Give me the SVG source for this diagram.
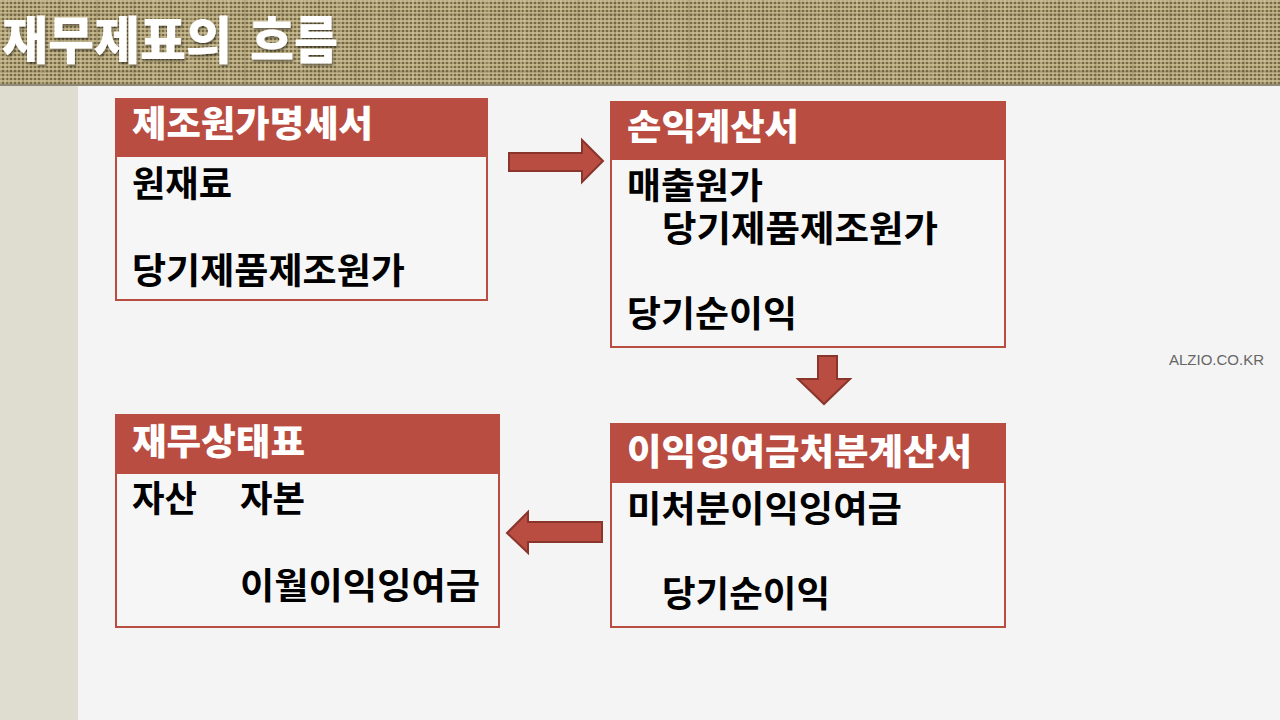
<svg xmlns="http://www.w3.org/2000/svg" width="1280" height="720" viewBox="0 0 1280 720">
<style>
.box{fill:#f6f6f6;stroke:#b94d42;stroke-width:2}
.hdr{fill:#b94d42}
.ht{font-family:"Noto Sans CJK KR","Noto Sans",sans-serif;font-weight:900;font-size:36px;fill:#ffffff}
.bt{font-family:"Noto Sans CJK KR","Noto Sans",sans-serif;font-weight:700;font-size:36px;fill:#000000}
.title{font-family:"Noto Sans CJK KR","Noto Sans",sans-serif;font-weight:900;font-size:51px;fill:#ffffff}
.arrow{fill:#b94d42;stroke:#8a352c;stroke-width:2;stroke-linejoin:miter}
.wm{font-family:"Liberation Sans",Arial,sans-serif;font-size:15px;fill:#666666}
</style>
<defs>
<pattern id="burlap" width="4" height="4" patternUnits="userSpaceOnUse">
<rect width="4" height="4" fill="#766b45"/>
<rect x="0" y="0" width="4" height="2" fill="#b9ab82"/>
<rect x="0" y="0" width="2" height="4" fill="#ae9f77"/>
<rect x="0" y="0" width="2" height="2" fill="#c6b990"/>
</pattern>
<pattern id="streak" width="37" height="29" patternUnits="userSpaceOnUse">
<rect x="5" y="0" width="2" height="29" fill="#d8cba0" opacity="0.25"/>
<rect x="0" y="13" width="37" height="2" fill="#5e5535" opacity="0.18"/>
<rect x="22" y="0" width="2" height="29" fill="#5e5535" opacity="0.15"/>
</pattern>
<filter id="sh" x="-5%" y="-20%" width="110%" height="140%">
<feDropShadow dx="1" dy="2" stdDeviation="1.2" flood-color="#000" flood-opacity="0.45"/>
</filter>
</defs>
<rect width="1280" height="720" fill="#f4f4f4"/>
<rect x="0" y="86" width="78" height="634" fill="#dfddcf"/>
<rect x="0" y="0" width="1280" height="86" fill="url(#burlap)"/>
<rect x="0" y="0" width="1280" height="86" fill="url(#streak)"/>
<rect x="0" y="84" width="1280" height="2" fill="#8f8a78"/>
<text class="title" y="59" filter="url(#sh)"><tspan x="2" textLength="230" lengthAdjust="spacingAndGlyphs">재무제표의</tspan> <tspan x="250" textLength="88" lengthAdjust="spacingAndGlyphs">흐름</tspan></text>
<text class="wm" x="1169" y="365" textLength="95" lengthAdjust="spacingAndGlyphs">ALZIO.CO.KR</text>

<g id="node-manufacturing">
<rect class="box" x="116" y="99" width="371" height="201"/>
<rect class="hdr" x="116" y="99" width="371" height="58"/>
<text class="ht" x="132" y="137" textLength="241" lengthAdjust="spacingAndGlyphs">제조원가명세서</text>
<text class="bt" x="132" y="197" textLength="100" lengthAdjust="spacingAndGlyphs">원재료</text>
<text class="bt" x="132" y="284" textLength="273" lengthAdjust="spacingAndGlyphs">당기제품제조원가</text>
</g>

<g id="node-income">
<rect class="box" x="611" y="102" width="394" height="245"/>
<rect class="hdr" x="611" y="102" width="394" height="58"/>
<text class="ht" x="627" y="140" textLength="172" lengthAdjust="spacingAndGlyphs">손익계산서</text>
<text class="bt" x="627" y="199" textLength="136" lengthAdjust="spacingAndGlyphs">매출원가</text>
<text class="bt" x="662" y="242" textLength="276" lengthAdjust="spacingAndGlyphs">당기제품제조원가</text>
<text class="bt" x="627" y="327" textLength="170" lengthAdjust="spacingAndGlyphs">당기순이익</text>
</g>

<g id="node-retained">
<rect class="box" x="611" y="424" width="394" height="203"/>
<rect class="hdr" x="611" y="424" width="394" height="59"/>
<text class="ht" x="627" y="465" textLength="345" lengthAdjust="spacingAndGlyphs">이익잉여금처분계산서</text>
<text class="bt" x="627" y="522" textLength="275" lengthAdjust="spacingAndGlyphs">미처분이익잉여금</text>
<text class="bt" x="662" y="607" textLength="168" lengthAdjust="spacingAndGlyphs">당기순이익</text>
</g>

<g id="node-balance">
<rect class="box" x="116" y="415" width="383" height="212"/>
<rect class="hdr" x="116" y="415" width="383" height="59"/>
<text class="ht" x="132" y="455" textLength="173" lengthAdjust="spacingAndGlyphs">재무상태표</text>
<text class="bt" x="132" y="512" textLength="65" lengthAdjust="spacingAndGlyphs">자산</text>
<text class="bt" x="240" y="512" textLength="65" lengthAdjust="spacingAndGlyphs">자본</text>
<text class="bt" x="240" y="599" textLength="240" lengthAdjust="spacingAndGlyphs">이월이익잉여금</text>
</g>

<g id="connectors">
<polygon class="arrow" points="509,153 582,153 582,140 603,161 582,182 582,171 509,171"/>
<polygon class="arrow" points="818,356 837,356 837,379 850,379 824,404 798,379 818,379"/>
<polygon class="arrow" points="602,522 528,522 528,512 507,533 528,553 528,542 602,542"/>
</g>
</svg>
